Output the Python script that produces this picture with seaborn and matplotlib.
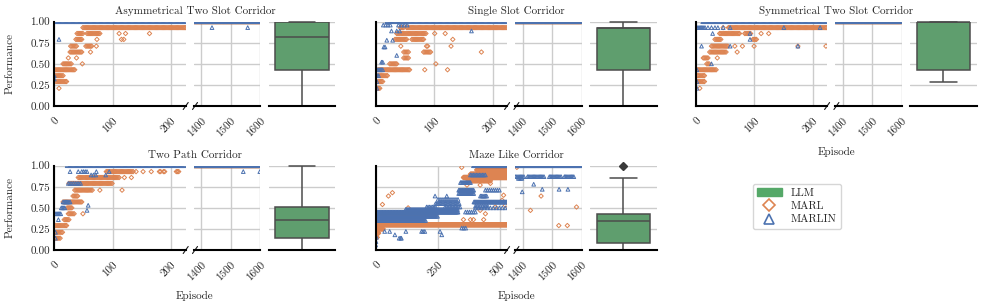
import numpy as np
import pandas as pd
import matplotlib
matplotlib.use('Agg')
import matplotlib.pyplot as plt
from matplotlib.patches import Patch
from matplotlib.lines import Line2D
import seaborn as sns

# Series are stored as runs:
# (first episode, last episode, performance[, episode step])
# A run with first == last is a single point. Default step is 2 episodes.

# --- Asymmetrical Two Slot Corridor ---
asym_marl = [
    (1, 35, 0.43), (1, 15, 0.36), (3, 21, 0.29), (8, 8, 0.21),
    (15, 30, 0.5), (48, 48, 0.5), (24, 24, 0.57), (38, 38, 0.57),
    (27, 47, 0.64), (62, 62, 0.64),
    (28, 39, 0.71), (54, 64, 0.71), (72, 72, 0.71),
    (37, 47, 0.79), (73, 73, 0.79), (115, 115, 0.79), (119, 119, 0.79),
    (39, 49, 0.86), (56, 78, 0.86), (111, 111, 0.86), (122, 122, 0.86), (163, 163, 0.86),
    (49, 225, 0.93),
    (1375, 1600, 1.0),
]
asym_marlin = [
    (0, 1, 0.36), (0, 0, 0.32), (8, 8, 0.79),
    (1, 225, 1.0), (1375, 1600, 1.0), (1436, 1436, 0.93), (1557, 1557, 0.93),
]
asym_llm = [0.0, 0.43, 0.82, 1.0, 1.0]

# --- Single Slot Corridor ---
single_marl = [
    (1, 7, 0.21), (4, 13, 0.29), (4, 21, 0.36), (4, 59, 0.43), (84, 84, 0.43), (123, 123, 0.43),
    (24, 36, 0.5), (103, 103, 0.5), (48, 56, 0.57),
    (48, 56, 0.64), (82, 94, 0.64), (181, 181, 0.64),
    (43, 43, 0.71), (87, 89, 0.71), (129, 129, 0.71),
    (33, 53, 0.79), (62, 83, 0.79), (132, 132, 0.79),
    (36, 86, 0.86), (101, 101, 0.86), (119, 119, 0.86),
    (42, 48, 0.93), (53, 225, 0.93),
    (1375, 1600, 1.0),
]
single_marlin = [
    (2, 2, 0.21), (2, 2, 0.29), (1, 5, 0.36), (2, 13, 0.43), (10, 13, 0.52),
    (36, 36, 0.6), (14, 16, 0.7), (19, 19, 0.78), (29, 29, 0.78),
    (27, 27, 0.89), (36, 36, 0.89), (41, 41, 0.89), (164, 164, 0.89),
    (13, 27, 0.96, 4), (39, 58, 0.96, 5),
    (19, 225, 1.0), (1375, 1600, 1.0),
]
single_llm = [0.0, 0.43, 0.93, 0.93, 1.0]

# --- Symmetrical Two Slot Corridor ---
sym_marl = [
    (7, 7, 0.21), (3, 16, 0.29), (3, 16, 0.36), (3, 36, 0.43),
    (19, 24, 0.5), (13, 22, 0.57), (37, 37, 0.57),
    (24, 53, 0.64), (71, 71, 0.64),
    (27, 56, 0.71), (67, 67, 0.71), (80, 80, 0.71), (100, 100, 0.71), (175, 175, 0.71), (223, 223, 0.71),
    (33, 44, 0.79), (98, 104, 0.79),
    (41, 76, 0.86), (84, 95, 0.86), (112, 112, 0.86), (125, 125, 0.86),
    (47, 47, 0.93), (56, 225, 0.93),
    (1375, 1600, 1.0),
]
sym_marlin = [
    (2, 2, 0.21), (2, 2, 0.29), (2, 2, 0.43), (27, 27, 0.5),
    (10, 11, 0.71), (59, 59, 0.71), (175, 175, 0.71),
    (93, 93, 0.79), (29, 29, 0.86), (93, 93, 0.86),
    (2, 16, 0.93), (21, 21, 0.93), (27, 27, 0.93), (33, 33, 0.93), (38, 38, 0.93),
    (47, 47, 0.93), (59, 59, 0.93), (151, 151, 0.93), (213, 213, 0.93),
    (12, 225, 1.0), (1375, 1600, 1.0),
]
sym_llm = [0.29, 0.43, 1.0, 1.0, 1.0]

# --- Two Path Corridor ---
twopath_marl = [
    (2, 11, 0.14), (2, 14, 0.21), (1, 22, 0.29), (17, 25, 0.36), (24, 35, 0.43), (49, 49, 0.43),
    (22, 31, 0.5), (15, 47, 0.57), (32, 41, 0.64),
    (35, 66, 0.71), (78, 78, 0.71), (116, 116, 0.71),
    (25, 100, 0.79),
    (41, 112, 0.86), (120, 120, 0.86), (132, 132, 0.86),
    (89, 135, 0.93), (140, 140, 0.93), (152, 152, 0.93), (166, 166, 0.93),
    (180, 182, 0.93), (187, 189, 0.93), (209, 214, 0.93),
    (1375, 1600, 1.0),
]
twopath_marlin = [
    (2, 2, 0.14), (2, 2, 0.21), (7, 7, 0.36), (1, 12, 0.43), (12, 18, 0.5), (56, 56, 0.47),
    (58, 58, 0.53), (15, 27, 0.57), (24, 47, 0.79, 3),
    (63, 71, 0.89, 4), (88, 88, 0.89),
    (27, 27, 0.93), (41, 41, 0.93), (47, 58, 0.93, 3), (72, 72, 0.93), (94, 94, 0.93),
    (22, 225, 1.0), (1375, 1600, 1.0), (1542, 1542, 0.93), (1598, 1598, 0.93),
]
twopath_llm = [0.0, 0.14, 0.36, 0.51, 1.0]

# --- Maze Like Corridor ---
maze_marl = [
    (0, 527, 0.3, 1), (0, 245, 0.43, 3), (0, 30, 0.25), (0, 12, 0.2), (0, 6, 0.15),
    (27, 27, 0.54), (51, 51, 0.64), (67, 67, 0.68), (130, 130, 0.5),
    (352, 527, 0.86, 1), (380, 527, 0.9), (405, 527, 0.95), (370, 460, 0.82, 3),
    (345, 345, 0.98), (500, 527, 0.98, 3),
    (352, 352, 0.36), (380, 380, 0.36), (392, 392, 0.36), (433, 433, 0.36),
    (419, 419, 0.47), (440, 440, 0.43), (480, 480, 0.51), (507, 507, 0.59),
    (520, 520, 0.53), (513, 513, 0.65), (460, 460, 0.79), (366, 366, 0.77), (419, 419, 0.77),
    (1380, 1380, 0.98), (1426, 1426, 0.47), (1462, 1462, 0.64),
    (1522, 1522, 0.29), (1551, 1551, 0.29), (1582, 1582, 0.51),
]
maze_marlin = [
    (0, 330, 0.45, 3), (0, 250, 0.4, 4), (0, 200, 0.35, 4), (120, 330, 0.48, 4),
    (0, 0, 0.06), (1, 1, 0.1), (3, 3, 0.15),
    (36, 36, 0.22), (56, 56, 0.22), (77, 77, 0.18), (94, 94, 0.14), (100, 100, 0.14),
    (103, 103, 0.14), (121, 121, 0.22), (184, 184, 0.22), (190, 190, 0.22), (197, 197, 0.22),
    (258, 258, 0.22), (265, 265, 0.18), (345, 365, 0.26, 8),
    (204, 245, 0.51, 6), (278, 338, 0.51, 6), (240, 338, 0.55, 5), (250, 330, 0.6, 8),
    (238, 238, 0.64), (285, 285, 0.64),
    (333, 394, 0.71, 3), (333, 394, 0.67, 4), (340, 380, 0.8, 4), (394, 527, 0.57, 3),
    (420, 446, 0.64, 5), (440, 500, 0.71, 8), (380, 440, 0.89, 6),
    (400, 520, 0.5, 12), (360, 400, 0.45, 8), (400, 450, 0.52, 7),
    (392, 527, 1.0),
    (1375, 1600, 1.0),
    (1376, 1405, 0.87, 4), (1416, 1473, 0.87, 4), (1490, 1530, 0.87, 4), (1541, 1575, 0.87, 4),
    (1385, 1400, 0.85, 4), (1398, 1398, 0.69), (1437, 1437, 0.78),
    (1466, 1466, 0.72), (1523, 1523, 0.72), (1553, 1553, 0.72),
]
maze_llm = [0.0, 0.05, 0.08, 0.2, 0.34, 0.4, 0.43, 0.86, 1.0]

titles = ['Asymmetrical Two Slot Corridor', 'Single Slot Corridor',
          'Symmetrical Two Slot Corridor', 'Two Path Corridor', 'Maze Like Corridor']
marl_runs = [asym_marl, single_marl, sym_marl, twopath_marl, maze_marl]
marlin_runs = [asym_marlin, single_marlin, sym_marlin, twopath_marlin, maze_marlin]
llm_scores = [asym_llm, single_llm, sym_llm, twopath_llm, maze_llm]
main_xlims = [(0, 225), (0, 225), (0, 225), (0, 225), (0, 527)]
main_xticks = [[0, 100, 200], [0, 100, 200], [0, 100, 200], [0, 100, 200], [0, 250, 500]]
tail_xlim = (1375, 1600)
tail_xticks = [1400, 1500, 1600]
y_ticks = [0, 0.25, 0.5, 0.75, 1.0]
y_ticklabels = ['0.00', '0.25', '0.50', '0.75', '1.00']
series_names = ['LLM', 'MARL', 'MARLIN']

GREEN, ORANGE, BLUE = '#55A868', '#DD8452', '#4C72B0'


def expand(runs):
    eps, vals = [], []
    for r in runs:
        step = r[3] if len(r) > 3 else 2
        for e in range(r[0], r[1] + 1, step):
            eps.append(e)
            vals.append(r[2])
    return pd.DataFrame({'Episode': eps, 'Performance': vals})


sns.set_theme(style='whitegrid')
plt.rcParams['font.family'] = ['cmr10', 'DejaVu Serif']
plt.rcParams['axes.formatter.use_mathtext'] = True
FS = 8

W, H = 982, 308
fig = plt.figure(figsize=(W / 100, H / 100), dpi=100)


def rect(x, top, w, h):
    return [x / W, (H - top - h) / H, w / W, h / H]


def black_spine(ax, side):
    ax.spines[side].set_visible(True)
    ax.spines[side].set_color('black')
    ax.spines[side].set_linewidth(1.5)


row_tops = [21.7, 165.7]
row_h = 84.3
group_x = [54.3, 375.7, 695.7]
main_w, gap, tail_w, box_w = 131.4, 8.3, 66.4, 66.7
group_w = main_w + gap + tail_w + gap + box_w
slots = [(0, 0), (0, 1), (0, 2), (1, 0), (1, 1)]
xlab_kw = dict(rotation=45, ha='right', va='top', rotation_mode='anchor')

for i, (row, col) in enumerate(slots):
    top = row_tops[row]
    gx = group_x[col]
    ax_m = fig.add_axes(rect(gx, top, main_w, row_h))
    ax_t = fig.add_axes(rect(gx + main_w + gap, top, tail_w, row_h))
    ax_b = fig.add_axes(rect(gx + main_w + gap + tail_w + gap, top, box_w, row_h))

    marl = expand(marl_runs[i])
    marlin = expand(marlin_runs[i])
    for ax in (ax_m, ax_t):
        sns.scatterplot(data=marl, x='Episode', y='Performance', ax=ax, marker='D', s=5,
                        color=ORANGE, facecolor='none', edgecolor=ORANGE, linewidth=0.7, legend=False)
        sns.scatterplot(data=marlin, x='Episode', y='Performance', ax=ax, marker='^', s=7,
                        color=BLUE, facecolor='none', edgecolor=BLUE, linewidth=0.7, legend=False)
        ax.set_ylim(0, 1.0)
        ax.set_yticks(y_ticks)
        ax.set_xlabel('')
        ax.set_ylabel('')
        ax.tick_params(length=0, labelsize=FS, pad=3)
        ax.tick_params(axis='x', pad=7)
        for s in ax.spines.values():
            s.set_visible(False)
        black_spine(ax, 'bottom')

    ax_m.set_xlim(*main_xlims[i])
    ax_m.set_xticks(main_xticks[i], [str(t) for t in main_xticks[i]], **xlab_kw)
    ax_t.set_xlim(*tail_xlim)
    ax_t.set_xticks(tail_xticks, [str(t) for t in tail_xticks], **xlab_kw)
    black_spine(ax_m, 'left')
    if col == 0:
        ax_m.set_yticklabels(y_ticklabels)
    else:
        ax_m.set_yticklabels([])
    ax_t.set_yticklabels([])

    # broken axis marks
    dy = 3.5 / row_h
    kw = dict(color='k', lw=0.8, clip_on=False)
    ax_m.plot((1 - 2.5 / main_w, 1 + 2.5 / main_w), (-dy, dy), transform=ax_m.transAxes, **kw)
    ax_t.plot((-1.5 / tail_w, 3.5 / tail_w), (-dy, dy), transform=ax_t.transAxes, **kw)

    sns.boxplot(y=llm_scores[i], ax=ax_b, color=GREEN, width=0.8, linewidth=1.1,
                flierprops=dict(marker='D', markerfacecolor='#3a3a3a',
                                markeredgecolor='#3a3a3a', markersize=4))
    for ln in ax_b.lines:
        ln.set_clip_on(False)
    ax_b.set_ylim(0, 1.0)
    ax_b.set_yticks(y_ticks)
    ax_b.set_yticklabels([])
    ax_b.set_xticks([])
    ax_b.set_ylabel('')
    ax_b.tick_params(length=0)
    ax_b.grid(axis='x', visible=False)
    for s in ax_b.spines.values():
        s.set_visible(False)
    black_spine(ax_b, 'bottom')

    cx = (gx + group_w / 2) / W
    fig.text(cx, 1 - (top - 10.5) / H, titles[i], ha='center', va='center', fontsize=FS)
    if col == 0:
        fig.text(10 / W, 1 - (top + row_h / 2) / H, 'Performance', rotation=90,
                 ha='center', va='center', fontsize=FS)
    if (row, col) in [(0, 2), (1, 0), (1, 1)]:
        fig.text(cx, 1 - (top + 130.3) / H, 'Episode', ha='center', va='center', fontsize=FS)

handles = [
    Patch(facecolor=GREEN, edgecolor=GREEN),
    Line2D([], [], marker='D', ls='', mfc='none', mec=ORANGE, ms=6.5, mew=1.2),
    Line2D([], [], marker='^', ls='', mfc='none', mec=BLUE, ms=7, mew=1.2),
]
fig.legend(handles, series_names, loc='upper left', bbox_to_anchor=(752.7 / W, 1 - 184 / H),
           fontsize=FS, frameon=True, borderaxespad=0, labelspacing=0.3,
           handlelength=2.2, handletextpad=0.8, borderpad=0.4)

plt.savefig('out.png', dpi=100)
plt.close()
